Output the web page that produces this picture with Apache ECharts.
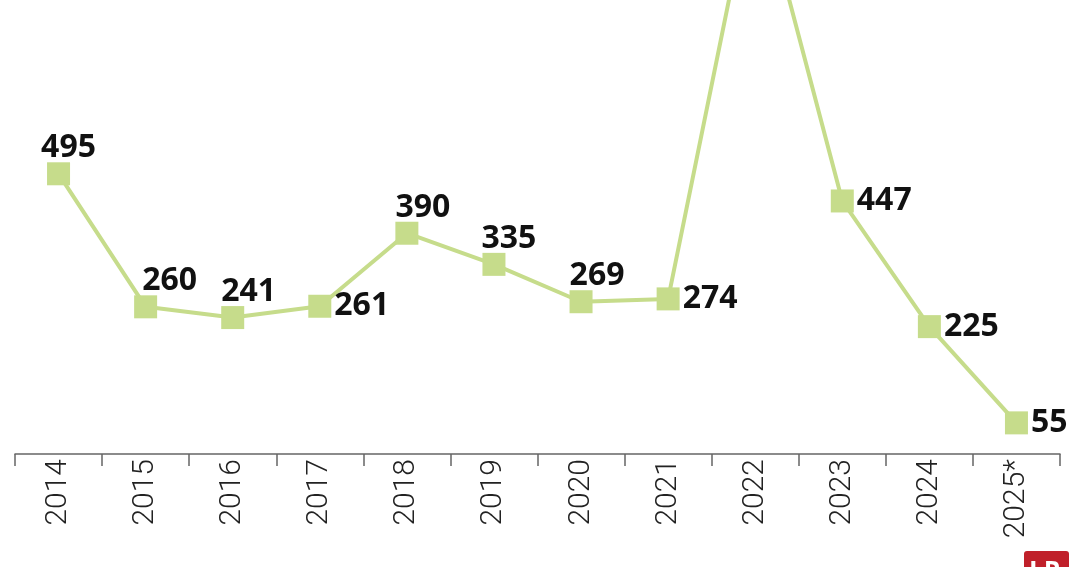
<!DOCTYPE html>
<html>
<head>
<meta charset="utf-8">
<script src="https://cdn.jsdelivr.net/npm/echarts@6/dist/echarts.min.js"></script>
<style>
html,body{margin:0;padding:0;background:#fff;}
#c{width:1080px;height:567px;}
</style>
</head>
<body>
<div id="c"></div>
<script>
var categories = ['2014','2015','2016','2017','2018','2019','2020','2021','2022','2023','2024','2025*'];
var values = [495, 260, 241, 261, 390, 335, 269, 274, 1030, 447, 225, 55];
var labelPlacement = ['top','top','top','right','top','top','top','right','none','right','right','right'];
var labelShiftX = [10, 24, 16, 0, 16, 15, 16, 0, 0, 0, 0, 0];

var green = '#c6dc8b';
var data = values.map(function (v, i) {
  var p = labelPlacement[i];
  var lab;
  if (p === 'none') lab = { show: false };
  else if (p === 'top') lab = { show: true, position: 'top', offset: [labelShiftX[i], 3] };
  else lab = { show: true, position: p, distance: 3 };
  return { value: v, label: lab };
});

var chart = echarts.init(document.getElementById('c'));
chart.setOption({
  animation: false,
  backgroundColor: '#fff',
  grid: { left: 15, right: 20, top: 0, bottom: 113 },
  xAxis: {
    type: 'category',
    data: categories,
    boundaryGap: true,
    axisLine: { lineStyle: { color: '#666', width: 1.5 } },
    axisTick: { show: true, length: 12, lineStyle: { color: '#666', width: 1.5 } },
    axisLabel: {
      rotate: 90,
      margin: 5,
      fontFamily: 'Roboto',
      fontWeight: 300,
      fontSize: 30,
      color: '#222'
    }
  },
  yAxis: {
    type: 'value',
    min: 0,
    max: 802,
    show: false,
    splitLine: { show: false }
  },
  series: [{
    type: 'line',
    data: data,
    clip: true,
    symbol: 'rect',
    symbolSize: 23,
    itemStyle: { color: green },
    lineStyle: { color: green, width: 4 },
    label: {
      show: true,
      fontFamily: 'Open Sans',
      fontWeight: 700,
      fontSize: 32,
      color: '#111',
      distance: 1
    }
  }],
  graphic: [
    { type: 'rect', left: 1024, top: 551, shape: { width: 45, height: 30, r: 3 }, style: { fill: '#c0202a' } },
    { type: 'text', left: 1029, top: 560, style: { text: 'LR', fill: '#fff', font: 'bold 26px "Open Sans"' } }
  ]
});
</script>
</body>
</html>
